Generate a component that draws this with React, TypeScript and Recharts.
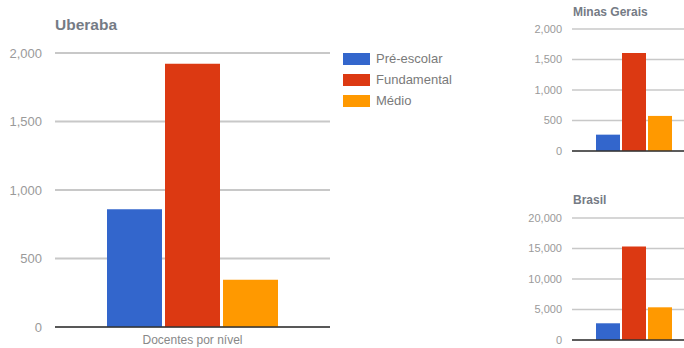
import React from "react";
import { BarChart, Bar, XAxis, YAxis, CartesianGrid } from "recharts";

const categories = ["Docentes por nível"];
const seriesNames = ["Pré-escolar", "Fundamental", "Médio"];
const seriesColors = ["#3366cc", "#dc3912", "#ff9900"];
const uberabaValues = [859, 1921, 344];
const minasValues = [268, 1606, 575];
const brasilValues = [2740, 15310, 5360];
const mainTicks = [0, 500, 1000, 1500, 2000];
const minasTicks = [0, 500, 1000, 1500, 2000];
const brasilTicks = [0, 5000, 10000, 15000, 20000];

const keys = ["s0", "s1", "s2"];
const buildRows = (vals: number[]) => [
  { name: categories[0], s0: vals[0], s1: vals[1], s2: vals[2] },
];

const FONT = "Arial, 'Liberation Sans', sans-serif";
const fmt = (v: number) => v.toLocaleString("en-US");

const LegendBlock = () => (
  <div style={{ position: "absolute", left: 343, top: 48, fontFamily: FONT }}>
    {seriesNames.map((n, i) => (
      <div key={n} style={{ display: "flex", alignItems: "center", height: 21 }}>
        <div style={{ width: 27, height: 12, background: seriesColors[i], marginRight: 6 }} />
        <span style={{ fontSize: 13, color: "#7a7a7a" }}>{n}</span>
      </div>
    ))}
  </div>
);

const Title = ({ text, left, top, size }: { text: string; left: number; top: number; size: number }) => (
  <div
    style={{
      position: "absolute",
      left,
      top,
      fontFamily: FONT,
      fontWeight: "bold",
      fontSize: size,
      color: "#757b85",
      lineHeight: 1,
      whiteSpace: "nowrap",
    }}
  >
    {text}
  </div>
);

const SmallChart = ({ vals, ticks, top, marginTop, height }: { vals: number[]; ticks: number[]; top: number; marginTop: number; height: number }) => (
  <div style={{ position: "absolute", left: 520, top }}>
    <BarChart
      width={176}
      height={height}
      data={buildRows(vals)}
      margin={{ top: marginTop, right: 0, bottom: 0, left: 0 }}
      barCategoryGap={24}
      barGap={2}
    >
      <CartesianGrid vertical={false} stroke="#c8c8c8" strokeWidth={1.5} />
      <XAxis dataKey="name" tick={false} tickLine={false} height={14} axisLine={{ stroke: "#333", strokeWidth: 1.5 }} />
      <YAxis
        width={52}
        domain={[ticks[0], ticks[ticks.length - 1]]}
        ticks={ticks}
        tickFormatter={fmt}
        axisLine={false}
        tickLine={false}
        tickSize={0}
        tickMargin={10}
        tick={{ fill: "#9a9a9a", fontSize: 11, fontFamily: FONT }}
      />
      {keys.map((k, i) => (
        <Bar key={k} dataKey={k} fill={seriesColors[i]} isAnimationActive={false} />
      ))}
    </BarChart>
  </div>
);

export default function App() {
  return (
    <div style={{ position: "absolute", left: 0, top: 0, width: 684, height: 348, overflow: "hidden", background: "#fff" }}>
      <Title text="Uberaba" left={55} top={17} size={15.5} />
      <div style={{ position: "absolute", left: 0, top: 0 }}>
        <BarChart
          width={340}
          height={348}
          data={buildRows(uberabaValues)}
          margin={{ top: 53, right: 10, bottom: 0, left: 0 }}
          barCategoryGap={52}
          barGap={3}
        >
          <CartesianGrid vertical={false} stroke="#c8c8c8" strokeWidth={2} />
          <XAxis
            dataKey="name"
            height={21}
            tickLine={false}
            tickSize={0}
            tickMargin={8}
            axisLine={{ stroke: "#333", strokeWidth: 1.5 }}
            tick={{ fill: "#888", fontSize: 12, fontFamily: FONT }}
          />
          <YAxis
            width={55}
            domain={[0, 2000]}
            ticks={mainTicks}
            tickFormatter={fmt}
            axisLine={false}
            tickLine={false}
            tickSize={0}
            tickMargin={13}
            tick={{ fill: "#9a9a9a", fontSize: 13, fontFamily: FONT }}
          />
          {keys.map((k, i) => (
            <Bar key={k} dataKey={k} name={seriesNames[i]} fill={seriesColors[i]} isAnimationActive={false} />
          ))}
        </BarChart>
      </div>
      <LegendBlock />
      <Title text="Minas Gerais" left={573} top={6} size={12} />
      <SmallChart vals={minasValues} ticks={minasTicks} top={0} marginTop={29} height={165} />
      <Title text="Brasil" left={573} top={194} size={12} />
      <SmallChart vals={brasilValues} ticks={brasilTicks} top={180} marginTop={38} height={174} />
    </div>
  );
}
